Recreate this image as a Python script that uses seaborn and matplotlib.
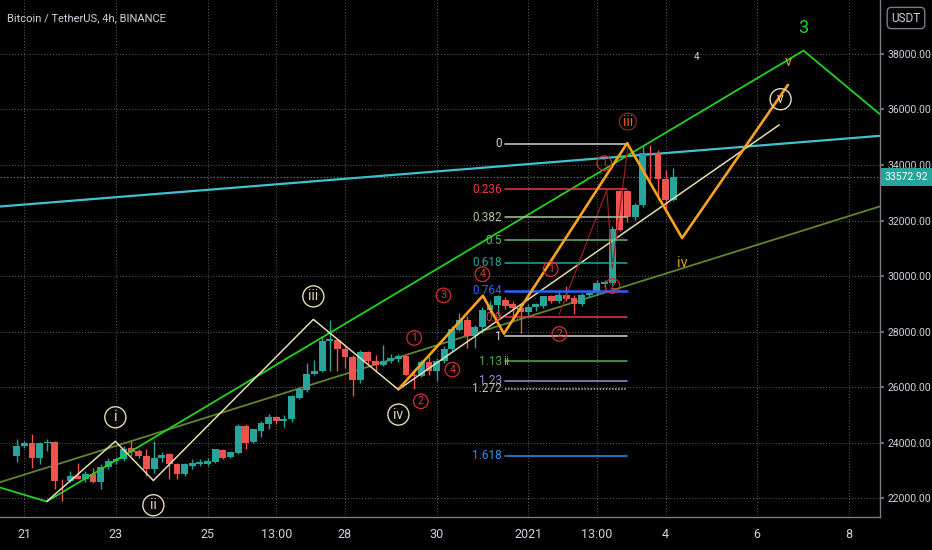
import matplotlib
matplotlib.use("Agg")
import matplotlib.pyplot as plt
import matplotlib.transforms as mtransforms
import pandas as pd
import seaborn as sns

# 4h candles, first one at 2020-12-20 20:00
first_candle = "2020-12-20 20:00"
opens = [23540, 23900, 24010, 23470, 24000, 24030, 22640, 22640, 22820, 22710,
         22860, 22600, 23140, 23330, 23400, 23830, 23700, 23540, 23040, 23470,
         23580, 23250, 22890, 23180, 23220, 23250, 23300, 23730, 23480, 23650,
         24620, 24020, 24440, 24690, 24940, 24770, 24840, 25630, 25910, 26490,
         26600, 27650, 27690, 27380, 27100, 26270, 27280, 26960, 26810, 26930,
         27030, 27110, 26430, 26400, 26920, 26570, 26930, 27360, 28070, 28410,
         27830, 28180, 28790, 28970, 29150, 28980, 28860, 28700, 28900, 28920,
         29270, 29090, 29330, 29210, 29010, 29330, 29390, 29730, 29760, 33050,
         33050, 32130, 32570, 34450, 34430, 33490, 32750]
highs = [24120, 24050, 24330, 24020, 24120, 24080, 22680, 22980, 23290, 22980,
         23110, 23220, 23470, 23480, 23900, 24060, 23760, 23760, 24050, 23660,
         23640, 23290, 23290, 23400, 23420, 23450, 23780, 23780, 23700, 24690,
         24690, 24500, 24770, 25020, 24980, 25010, 25730, 26010, 26890, 26990,
         27820, 28420, 27790, 27530, 27170, 27350, 27320, 27170, 27510, 27210,
         27200, 27140, 26630, 26990, 27110, 27050, 27470, 28190, 28670, 28550,
         28250, 28900, 29090, 29330, 29250, 29120, 28950, 29000, 29050, 29300,
         29330, 29450, 29630, 29330, 29390, 29510, 29850, 29870, 31790, 33110,
         33110, 32630, 34730, 34730, 34550, 33830, 33890]
lows = [23320, 23820, 23110, 23250, 23700, 22350, 21920, 22600, 22680, 22600,
        22560, 22350, 23040, 23250, 23340, 23540, 23470, 22800, 22930, 23300,
        22680, 22680, 22800, 23040, 23150, 23150, 23280, 23400, 23440, 23610,
        23790, 24000, 24220, 24510, 24660, 24580, 24740, 25560, 25820, 26450,
        26550, 26600, 26570, 26700, 25670, 26170, 26850, 26560, 26780, 26880,
        26910, 26400, 25950, 26380, 26450, 26210, 26880, 27290, 28010, 27410,
        27400, 27960, 28680, 28600, 28800, 28500, 27950, 28600, 28750, 28850,
        29050, 29030, 29090, 28650, 28910, 29260, 29330, 29570, 29690, 31610,
        31960, 32030, 32500, 33470, 32750, 32290, 32690]
closes = [23900, 24010, 23470, 24010, 24030, 22640, 22610, 22820, 22710, 22860,
          22600, 23140, 23360, 23400, 23760, 23680, 23540, 23040, 23470, 23550,
          23220, 22860, 23220, 23290, 23300, 23330, 23760, 23460, 23660, 24620,
          24010, 24480, 24730, 24940, 24770, 24870, 25670, 25950, 26490, 26600,
          27650, 27720, 27380, 27100, 26270, 27280, 26960, 26810, 26960, 27070,
          27110, 26430, 26400, 26920, 26570, 26930, 27390, 28110, 28410, 27830,
          28180, 28790, 28970, 29270, 28920, 28860, 28700, 28900, 28990, 29270,
          29090, 29330, 29180, 29010, 29330, 29390, 29770, 29780, 31700, 31670,
          32130, 32570, 34450, 34400, 33490, 32750, 33572.92]

# x positions of drawings are days after 2020-12-21 00:00
cyan_days = [-0.53, 18.67]
cyan_prices = [32507, 35050]
olive_days = [-0.53, 18.67]
olive_prices = [22580, 32507]
green_days = [-0.53, 0.489, 17.01, 18.67]
green_prices = [22390, 21885, 38120, 35840]
cream_days = [0.489, 1.987, 2.817, 6.31, 8.166, 16.48]
cream_prices = [21885, 24054, 22641, 28443, 25914, 35446]
orange_days = [8.166, 10.01, 10.47, 13.16, 14.36, 16.67]
orange_prices = [25925, 29295, 27928, 34788, 31371, 36885]
red_sub_days = [11.675, 12.716, 12.838, 13.187]
red_sub_prices = [28612, 33108, 30292, 34799]

fib_high = 34770
fib_low = 27830
fib_start, fib_end = 10.49, 13.15
fib_levels = [0, 0.236, 0.382, 0.5, 0.618, 0.764, 0.9, 1, 1.13, 1.23, 1.272, 1.618]
fib_colors = ["#d1d4dc", "#f23645", "#a9c79c", "#66bb6a", "#26a69a", "#2962ff",
              "#f23645", "#d1d4dc", "#4caf50", "#9c8fd0", "#b5c9a5", "#2196f3"]

cream_labels = ["i", "ii", "iii", "iv", "v"]
cream_label_days = [1.987, 2.817, 6.31, 8.166, 16.51]
cream_label_prices = [24918, 21752, 29270, 25015, 36370]

red_labels = ["3", "1", "4", "2", "4", "1", "2", "2", "1"]
red_label_days = [9.15, 8.51, 9.345, 8.655, 10.0, 11.49, 11.68, 12.84, 12.66]
red_label_prices = [29306, 27774, 26633, 25493, 30069, 30256, 27918, 29644, 34068]

orange_labels = ["iii", "iv", "v"]
orange_label_days = [13.175, 14.36, 16.67]
orange_label_prices = [35565, 30471, 37723]

tick_dates = ["2020-12-21", "2020-12-23", "2020-12-25", "2020-12-26 12:00",
              "2020-12-28", "2020-12-30", "2021-01-01", "2021-01-02 12:00",
              "2021-01-04", "2021-01-06", "2021-01-08"]
tick_labels = ["21", "23", "25", "13:00", "28", "30", "2021", "13:00", "4", "6", "8"]
price_ticks = [22000, 24000, 26000, 28000, 30000, 32000, 34000, 36000, 38000]

BG = "#000000"
TXT = "#d1d4dc"
UP = "#26a69a"
DOWN = "#ef5350"

sns.set_theme(style="dark", rc={"axes.facecolor": BG, "figure.facecolor": BG})
plt.rcParams['font.family'] = ['Roboto', 'DejaVu Sans']

origin = pd.Timestamp("2020-12-21")
times = pd.date_range(first_candle, periods=len(opens), freq="4h")
df = pd.DataFrame({"t": (times - origin) / pd.Timedelta("1D"),
                   "open": opens, "high": highs, "low": lows, "close": closes})
df["up"] = df["close"] >= df["open"]
df["color"] = df["up"].map({True: UP, False: DOWN})

fig = plt.figure(figsize=(9.32, 5.5), dpi=100)
ax = fig.add_axes([0, 33 / 550, 880 / 932, 517 / 550])
ax.set_facecolor(BG)

# grid
ax.set_xticks([(pd.Timestamp(d) - origin) / pd.Timedelta("1D") for d in tick_dates])
ax.set_xticklabels(tick_labels)
ax.set_yticks(price_ticks)
ax.set_yticklabels([f"{p:.2f}" for p in price_ticks])
ax.grid(True, color="#5d606b", linestyle=(0, (1, 2)), linewidth=0.7)
ax.set_axisbelow(True)

# drawing lines (under candles)
def line(xs, ys, color, lw, z=3):
    sns.lineplot(x=xs, y=ys, sort=False, estimator=None, color=color,
                 linewidth=lw, ax=ax, legend=False, zorder=z)

line(olive_days, olive_prices, "#62852b", 1.3, 2)
line(cyan_days, cyan_prices, "#3fc1d0", 1.6, 2)

# candles
ax.vlines(df["t"], df["low"], df["high"], colors=df["color"], linewidth=1.0, zorder=4)
body_bottom = df[["open", "close"]].min(axis=1)
body_height = (df["open"] - df["close"]).abs().clip(lower=25)
ax.bar(df["t"], body_height, bottom=body_bottom, width=0.15, color=df["color"],
       linewidth=0, zorder=4)

line(green_days, green_prices, "#1fd41f", 1.3, 5)
line(cream_days, cream_prices, "#e6dcb4", 1.1, 5)
line(red_sub_days, red_sub_prices, "#9c1c1c", 0.9, 5)
line(orange_days, orange_prices, "#f7a21b", 1.9, 6)

# fib retracement
for lvl, col in zip(fib_levels, fib_colors):
    price = fib_high - lvl * (fib_high - fib_low)
    lw = 1.8 if lvl == 0.764 else 1.1
    ls = (0, (1, 1)) if lvl == 1.272 else "-"
    ax.plot([fib_start, fib_end], [price, price], color=col, linewidth=lw,
            linestyle=ls, zorder=5)
    ax.text(fib_start - 0.06, price, f"{lvl:g}", color=col, fontsize=8.5,
            ha="right", va="center", zorder=7)

# wave labels
ax.scatter(cream_label_days, cream_label_prices, s=230, facecolors="none",
           edgecolors="#e6dcb4", linewidths=1.0, zorder=7)
for lab, x, y in zip(cream_labels, cream_label_days, cream_label_prices):
    ax.text(x, y, lab, color="#e6dcb4", fontsize=10, ha="center", va="center", zorder=8)

ax.scatter(red_label_days, red_label_prices, s=110, facecolors="none",
           edgecolors="#d32f2f", linewidths=0.9, zorder=7)
for lab, x, y in zip(red_labels, red_label_days, red_label_prices):
    ax.text(x, y, lab, color="#e53935", fontsize=7.5, ha="center", va="center", zorder=8)

ax.scatter([orange_label_days[0]], [orange_label_prices[0]], s=150, facecolors="none",
           edgecolors="#8a3a10", linewidths=0.8, zorder=7)
ax.text(orange_label_days[0], orange_label_prices[0], orange_labels[0], color="#e8651a",
        fontsize=10, ha="center", va="center", zorder=8)
ax.text(orange_label_days[1], orange_label_prices[1], orange_labels[1], color="#d9a21c",
        fontsize=10.5, ha="center", va="center", zorder=8)
ax.text(orange_label_days[2], orange_label_prices[2], orange_labels[2], color="#e0a020",
        fontsize=10.5, ha="center", va="center", zorder=8)
ax.text(fib_start - 0.03, fib_high - 1.13 * (fib_high - fib_low), "ii", color="#e0a020",
        fontsize=9, ha="left", va="center", zorder=8)
ax.text(14.67, 37903, "4", color=TXT, fontsize=7, ha="center", va="center")
ax.text(17.01, 38924, "3", color="#1fd41f", fontsize=13, ha="center", va="center")

# last price
last = closes[-1]
ax.axhline(last, color=UP, linestyle=(0, (1, 2)), linewidth=0.8, zorder=3)
trans = mtransforms.blended_transform_factory(ax.transAxes, ax.transData)
ax.text(1.005, last, f"{last:.2f}", transform=trans, color="white", fontsize=7.5,
        ha="left", va="center", zorder=10, clip_on=False,
        bbox=dict(boxstyle="square,pad=0.35", fc=UP, ec="none"))

ax.set_xlim(-0.531, 18.68)
ax.set_ylim(21328, 39942)
ax.yaxis.tick_right()
ax.tick_params(axis="both", colors=TXT, length=3, color="#787b86")
ax.tick_params(axis="x", pad=5, labelsize=9)
ax.tick_params(axis="y", pad=2.5, labelsize=7.5)
for side in ["top", "left"]:
    ax.spines[side].set_visible(False)
for side in ["right", "bottom"]:
    ax.spines[side].set_visible(True)
    ax.spines[side].set_color("#787b86")
    ax.spines[side].set_linewidth(1.0)

fig.text(7 / 932, 1 - 18 / 550, "Bitcoin / TetherUS, 4h, BINANCE", color=TXT,
         fontsize=8, ha="left", va="center")
fig.text(906 / 932, 1 - 18 / 550, "USDT", color=TXT, fontsize=8.5, ha="center",
         va="center", bbox=dict(boxstyle="round,pad=0.35", fc=BG, ec="#787b86"))

fig.savefig("out.png", dpi=100, facecolor=BG)
